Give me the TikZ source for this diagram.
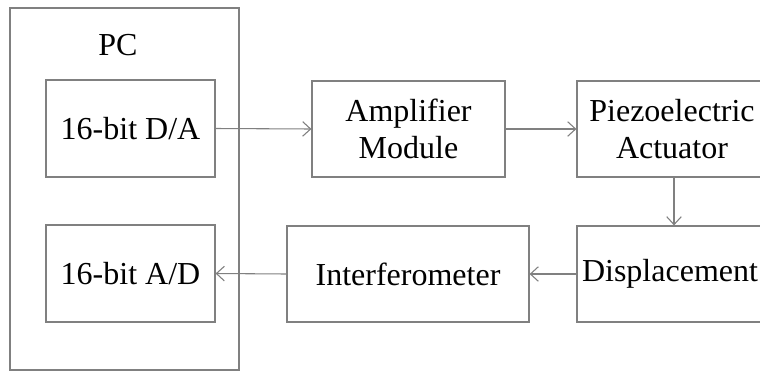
\documentclass[tikz,border=0pt]{standalone}
\usepackage{fontspec}
\setmainfont{Liberation Serif}
\usetikzlibrary{arrows.meta}
\definecolor{linegray}{HTML}{808080}
\begin{document}
\begin{tikzpicture}[x=0.75pt,y=-0.75pt,
  txt/.style={font=\fontsize{24}{28}\selectfont,inner sep=0pt,align=center},
  box/.style={draw=linegray,line width=0.9pt,inner sep=0pt,align=center,
    font=\fontsize{24}{28}\selectfont},
  conn/.style={draw=linegray,line width=0.8pt,-{Straight Barb[length=6pt,width=11pt,line width=0.8pt]}}]
\clip (0,0) rectangle (760,372);
\fill[white] (0,0) rectangle (760,372);
\node[box,minimum width=229*0.75pt,minimum height=362*0.75pt] (pc) at (124.5,189) {};
\node[txt] (pclabel) at (118,45) {PC};
\node[box,minimum width=169*0.75pt,minimum height=97*0.75pt] (da) at (130.5,128.5) {16-bit D/A};
\node[box,minimum width=169*0.75pt,minimum height=97*0.75pt] (ad) at (130.5,273.5) {16-bit A/D};
\node[box,minimum width=193*0.75pt,minimum height=96*0.75pt] (amp) at (408.5,129) {Amplifier\\Module};
\node[box,minimum width=194*0.75pt,minimum height=96*0.75pt] (pz) at (674,129) {};
\node[txt] (pzt) at (672,129) {Piezoelectric\\Actuator};
\node[box,minimum width=194*0.75pt,minimum height=96*0.75pt] (disp) at (674,274) {};
\node[txt] (dispt) at (670,274) {Displacement};
\node[box,minimum width=242*0.75pt,minimum height=96*0.75pt] (intf) at (408,274) {Interferometer};
\draw[conn] (da.east) -- (amp.west);
\draw[conn] (amp.east) -- (pz.west);
\draw[conn] (pz.south) -- (disp.north);
\draw[conn] (disp.west) -- (intf.east);
\draw[conn] (intf.west) -- (ad.east);
\end{tikzpicture}
\end{document}
